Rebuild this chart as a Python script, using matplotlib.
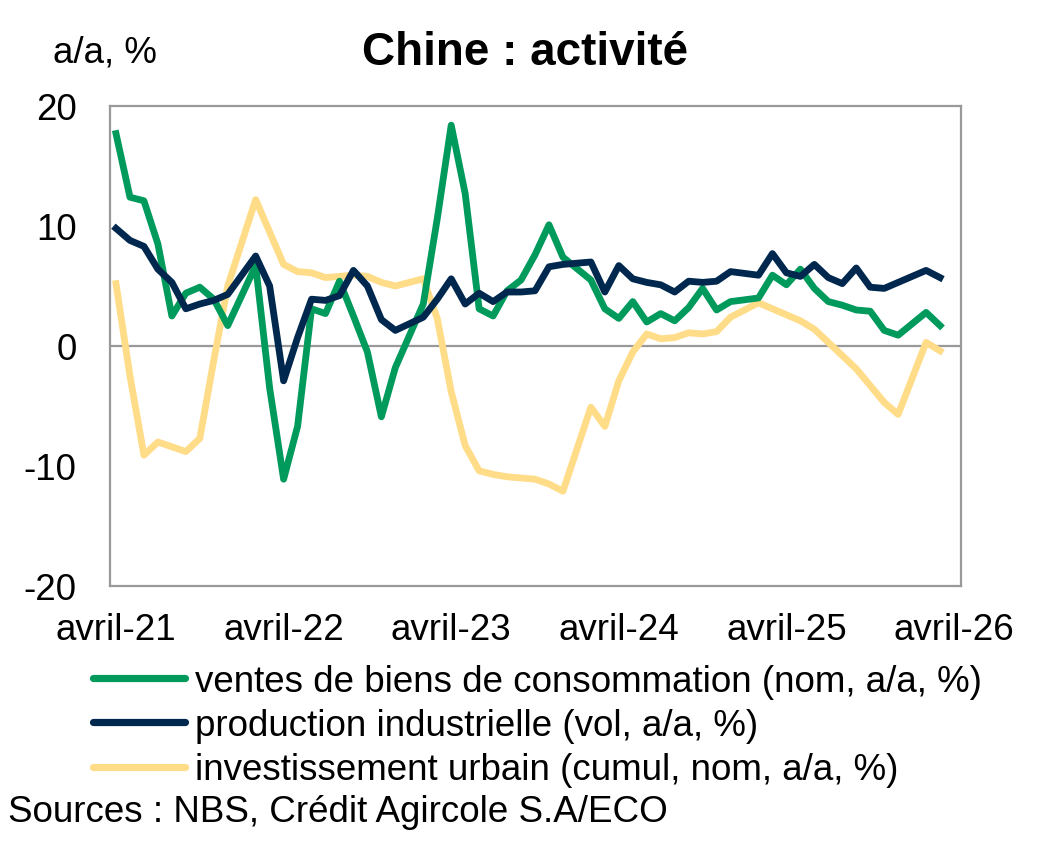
import matplotlib
matplotlib.use("Agg")
import matplotlib.pyplot as plt

plt.rcParams['font.family'] = ['Liberation Sans', 'DejaVu Sans']

# months (January missing: Jan-Feb combined)
months = ["2021-04","2021-05","2021-06","2021-07","2021-08","2021-09","2021-10","2021-11","2021-12",
          "2022-02","2022-03","2022-04","2022-05","2022-06","2022-07","2022-08","2022-09","2022-10","2022-11","2022-12",
          "2023-02","2023-03","2023-04","2023-05","2023-06","2023-07","2023-08","2023-09","2023-10","2023-11","2023-12",
          "2024-02","2024-03","2024-04","2024-05","2024-06","2024-07","2024-08","2024-09","2024-10","2024-11","2024-12",
          "2025-02","2025-03","2025-04","2025-05","2025-06","2025-07","2025-08","2025-09","2025-10","2025-11","2025-12",
          "2026-02","2026-03"]

ventes = [17.7, 12.4, 12.1, 8.5, 2.5, 4.4, 4.9, 3.9, 1.7,
          6.7, -3.5, -11.1, -6.7, 3.1, 2.7, 5.4, 2.5, -0.5, -5.9, -1.8,
          3.5, 10.6, 18.4, 12.7, 3.1, 2.5, 4.6, 5.5, 7.6, 10.1, 7.4,
          5.5, 3.1, 2.3, 3.7, 2.0, 2.7, 2.1, 3.2, 4.8, 3.0, 3.7,
          4.0, 5.9, 5.1, 6.4, 4.8, 3.7, 3.4, 3.0, 2.9, 1.3, 0.9,
          2.8, 1.7]

production = [9.8, 8.8, 8.3, 6.4, 5.3, 3.1, 3.5, 3.8, 4.3,
              7.5, 5.0, -2.9, 0.7, 3.9, 3.8, 4.2, 6.3, 5.0, 2.2, 1.3,
              2.4, 3.9, 5.6, 3.5, 4.4, 3.7, 4.5, 4.5, 4.6, 6.6, 6.8,
              7.0, 4.5, 6.7, 5.6, 5.3, 5.1, 4.5, 5.4, 5.3, 5.4, 6.2,
              5.9, 7.7, 6.1, 5.8, 6.8, 5.7, 5.2, 6.5, 4.9, 4.8, 5.3,
              6.3, 5.7]

investissement = [5.2, -2.5, -9.1, -8.0, -8.4, -8.8, -7.7, -1.2, 5.0,
                  12.2, 9.5, 6.8, 6.2, 6.1, 5.7, 5.8, 5.9, 5.8, 5.3, 5.0,
                  5.6, 2.3, -3.8, -8.3, -10.4, -10.7, -10.9, -11.0, -11.1, -11.5, -12.1,
                  -5.1, -6.7, -2.9, -0.5, 1.0, 0.6, 0.7, 1.1, 1.0, 1.2, 2.4,
                  3.6, 3.1, 2.6, 2.1, 1.4, 0.3, -0.8, -1.9, -3.3, -4.7, -5.7,
                  0.3, -0.4]

tick_labels = ["avril-21", "avril-22", "avril-23", "avril-24", "avril-25", "avril-26"]
labels = ["ventes de biens de consommation (nom, a/a, %)",
          "production industrielle (vol, a/a, %)",
          "investissement urbain (cumul, nom, a/a, %)"]

def idx(s):
    y, m = s.split("-")
    return (int(y) - 2021) * 12 + (int(m) - 4)

x = [idx(s) for s in months]

W, H = 1039, 845
fig = plt.figure(figsize=(W / 100, H / 100), dpi=100)
ax = fig.add_axes([110 / W, 1 - 587 / H, (961 - 110) / W, (587 - 107) / H])

c_green = "#009A5C"
c_navy = "#00274D"
c_yellow = "#FFDC87"
lw = 4.9
fs = 26.5

ax.axhline(0, color="#999999", lw=1.6, zorder=1)
l1, = ax.plot(x, ventes, color=c_green, lw=lw, solid_joinstyle="round", zorder=3)
l2, = ax.plot(x, production, color=c_navy, lw=lw, solid_joinstyle="round", zorder=4)
l3, = ax.plot(x, investissement, color=c_yellow, lw=lw, solid_joinstyle="round", zorder=2)

ax.set_xlim(-0.43, 60.5)
ax.set_ylim(-20, 20)
ax.set_yticks([-20, -10, 0, 10, 20])
ax.set_yticklabels(["-20", "-10", "0", "10", "20"])
ax.set_xticks([0, 12, 24, 36, 48, 60])
ax.set_xticklabels(tick_labels)
ax.tick_params(axis="both", length=0, labelsize=fs, colors="black")
ax.tick_params(axis="y", pad=24)
ax.tick_params(axis="x", pad=19)
for sp in ax.spines.values():
    sp.set_color("#999999")
    sp.set_linewidth(1.6)

fig.text(53 / W, 1 - 53 / H, "a/a, %", fontsize=fs, ha="left", va="center")
fig.text(525 / W, 1 - 53 / H, "Chine : activité", fontsize=33, fontweight="bold",
         ha="center", va="center")

leg = fig.legend([l1, l2, l3], labels, loc="upper left",
                 bbox_to_anchor=(93 / W, 1 - 665 / H), frameon=False,
                 fontsize=fs, handlelength=2.5, handletextpad=0.27,
                 labelspacing=0.25, borderaxespad=0, borderpad=0)
for h in leg.legend_handles:
    h.set_linewidth(5.2)
    h.set_solid_capstyle("round")

fig.text(8 / W, 1 - 813 / H, "Sources : NBS, Crédit Agircole S.A/ECO", fontsize=fs,
         ha="left", va="center")

fig.savefig("out.png", dpi=100)
